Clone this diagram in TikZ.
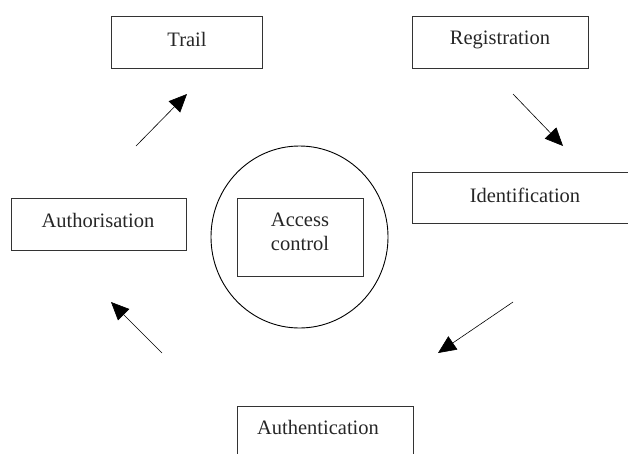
\documentclass[tikz,border=0pt]{standalone}
\usepackage{fontspec}
\setmainfont{Liberation Serif}
\usetikzlibrary{arrows.meta,shapes.geometric}
\begin{document}
\begin{tikzpicture}[x=1pt,y=-1pt,
  box/.style={draw=black!80, line width=1pt, rectangle, inner sep=0pt},
  lbl/.style={inner sep=0pt, font=\fontsize{20.5}{24}\selectfont, align=center, text=black!85},
  arr/.style={line width=0.6pt, -{Triangle[length=18pt,width=16pt]}}]
\useasboundingbox (0,0) rectangle (628,453);
\clip (0,0) rectangle (628,453);
% boxes
\node[box, minimum width=151pt, minimum height=52pt] (trail) at (186.5,42) {};
\node[lbl] (trailT) at (187,39) {Trail};
\node[box, minimum width=176pt, minimum height=52pt] (reg) at (500,42) {};
\node[lbl] (regT) at (500,40) {Registration};
\node[box, minimum width=240pt, minimum height=51pt] (ident) at (532,197.5) {};
\node[lbl] (identT) at (525,195) {Identification};
\node[box, minimum width=175pt, minimum height=52pt] (authz) at (98.5,224) {};
\node[lbl] (authzT) at (98,220) {Authorisation};
\node[box, minimum width=176pt, minimum height=70pt] (authn) at (325,441) {};
\node[lbl] (authnT) at (318,427) {Authentication};
% centre
\node[draw=black, line width=0.9pt, ellipse, minimum width=177pt, minimum height=182pt, inner sep=0pt] (circ) at (299.5,237) {};
\node[box, minimum width=126pt, minimum height=78pt] (acc) at (300,237) {};
\node[lbl, font=\fontsize{20.5}{24.5}\selectfont] (accT) at (300,232) {Access\\control};
% arrow end points
\coordinate (a1s) at (136,146); \coordinate (a1e) at (187,94);
\coordinate (a2s) at (513,94);  \coordinate (a2e) at (563,146);
\coordinate (a3s) at (513,302); \coordinate (a3e) at (438,353);
\coordinate (a4s) at (162,353); \coordinate (a4e) at (111,302);
\draw[arr] (a1s) -- (a1e);
\draw[arr] (a2s) -- (a2e);
\draw[arr] (a3s) -- (a3e);
\draw[arr] (a4s) -- (a4e);
\end{tikzpicture}
\end{document}
